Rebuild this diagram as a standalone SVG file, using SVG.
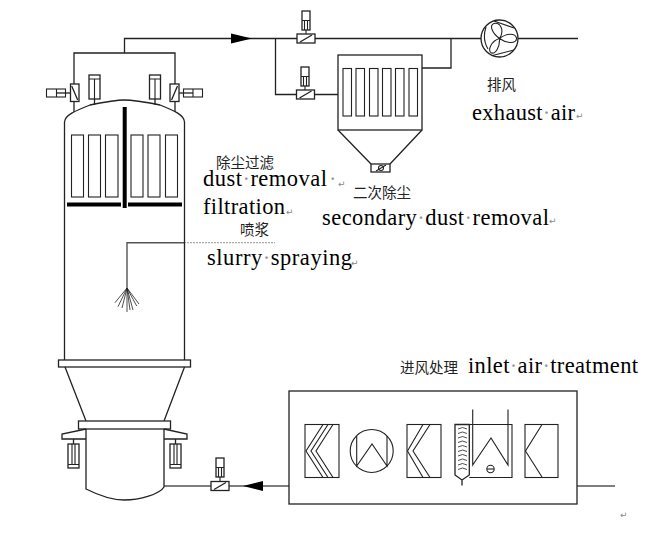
<svg xmlns="http://www.w3.org/2000/svg" width="664" height="535" viewBox="0 0 664 535">
<style>
.l{fill:none;stroke:#222;stroke-width:1.3}
.b{fill:#fff;stroke:#222;stroke-width:1.3}
.t{fill:none;stroke:#222;stroke-width:1.1}
.s{fill:none;stroke:#222;stroke-width:0.8}
.g{fill:none;stroke:#555;stroke-width:1.4}
.h{fill:none;stroke:#000;stroke-width:4}
.en{font-family:"Liberation Serif",serif;font-size:22.5px;fill:#000}
.zh{font-family:"Noto Sans CJK SC",sans-serif;font-size:14.5px;fill:#222;font-weight:400}
.d{fill:#999}
.r{font-family:"DejaVu Sans",sans-serif;font-size:9px;fill:#888}
</style>
<defs>
<g id="v"><rect class="b" x="-9" y="-4.500" width="18" height="9"/><path class="l" d="M-6 3.500L6 -3.500"/></g>
<g id="act"><rect class="b" x="-4" y="-19" width="8" height="19"/><path class="t" d="M-4 -9.500H4M-1.500 -9.500V0M1.500 -9.500V0"/></g>
<g id="cyl"><rect class="b" x="-5.500" y="0" width="11" height="24"/><path class="t" d="M-5.500 20.500H5.500M-1.500 0V20.500M1.500 0V20.500"/></g>
</defs>
<g id="connectors">
<path class="l" d="M74 84V53H175V84M124.500 53V38.500H297M315 38.500H578M275.500 38.500V94.500H297M315 94.500H338M422 68H451V38.500"/>
<path d="M231 33.500L252 38.500L231 43.500Z" fill="#000"/>
<path class="g" d="M164 486H211M229 486H289M577 486H615"/>
<path d="M243 486L263 481V491Z" fill="#000"/>
<path class="g" d="M127 288V242.700H184"/>
<path d="M184 242.700H275" stroke="#aaa" stroke-width="1.2" stroke-dasharray="2 1" fill="none"/>
</g>
<g id="valve-top"><use href="#v" x="306" y="38.500"/><use href="#act" x="306" y="30"/><path class="t" d="M306 30V34"/></g>
<g id="valve-branch"><use href="#v" x="305.500" y="94.500"/><use href="#act" x="305" y="86"/><path class="t" d="M305 86V90"/></g>
<g id="fan"><circle class="b" cx="499.500" cy="38.500" r="18.500"/>
<path class="t" d="M499.500 38.500C492 33 489 25 494 23.500C500 22 505 30 499.500 38.500C507 33 515 33 516.500 38C517 44 507 44 499.500 38.500C500 46 496 54 491.500 53C487 51 491 41 499.500 38.500Z"/>
<path class="t" d="M494 21L514 28M492.500 55.500L514 50M486 27C483 36 485 44 488 49"/>
</g>
<g id="secondary-collector">
<rect class="b" x="338" y="55" width="84" height="75"/>
<path class="l" d="M338 130L371 164M422 130L390 164"/>
<g class="t"><rect x="343" y="68.500" width="8.500" height="47.500"/><rect x="356" y="68.500" width="8.500" height="47.500"/><rect x="369.500" y="68.500" width="8.500" height="47.500"/><rect x="382.500" y="68.500" width="8.500" height="47.500"/><rect x="395.500" y="68.500" width="8.500" height="47.500"/><rect x="409" y="68.500" width="8.500" height="47.500"/></g>
<rect class="b" x="371" y="164" width="19" height="8"/><path class="t" d="M376 171L386 165"/><circle class="t" cx="381" cy="168" r="2.500"/>
</g>
<g id="main-tower">
<path class="l" d="M64.500 360V122C65 115 75 111 90 105C105 102 115 100 124 100C134 100 145 102 160 105C175 111 184 115 184.500 122V360"/>
<g class="t"><rect x="71.500" y="135" width="12" height="62"/><rect x="88.500" y="135" width="12" height="62"/><rect x="105.500" y="135" width="12.500" height="62"/><rect x="131" y="135" width="12" height="62"/><rect x="148" y="135" width="12" height="62"/><rect x="165.500" y="135" width="12" height="62"/></g>
<path class="h" d="M124.700 107V208M67 204.500H121M128 204.500H182"/>
<path class="l" d="M94.500 99V105M155 99V105M74 101V112M175 101V112"/>
<path class="s" d="M115 302.700L127 288L118 306.700M122 308L127 288V312M127 288L130 310M127 288L133 310M127 288L136.700 306M127 288L139 304"/>
</g>
<g id="tower-valve-left"><rect class="b" x="70.500" y="84" width="8.500" height="17.500"/><path class="l" d="M71.700 86L77.700 100"/><path class="l" d="M56.500 93H70.500"/><rect class="t" x="46.500" y="89" width="19" height="8"/><path class="t" d="M56.500 89V97"/></g>
<g id="tower-valve-right"><rect class="b" x="170" y="84" width="9" height="17.500"/><path class="l" d="M177.500 86L171.500 100"/><path class="l" d="M179 93H193"/><rect class="t" x="183.500" y="89" width="19" height="8"/><path class="t" d="M193 89V97"/></g>
<g id="sensor-left"><rect class="b" x="89" y="75" width="11" height="24"/><path class="t" d="M89 79H100M94.500 79V99"/></g>
<g id="sensor-right"><rect class="b" x="149.500" y="75" width="11" height="24"/><path class="t" d="M149.500 79H160.500M155 79V99"/></g>
<g id="lower-vessel">
<rect class="b" x="58.500" y="360" width="132" height="7"/>
<path class="l" d="M65 367L86 421M184.500 367L164 421"/>
<rect class="b" x="78.500" y="421" width="92" height="8"/>
<path class="l" d="M86 429V489C98 495 110 500 124 500C140 500 160 494 164 487V429"/>
<path class="l" d="M86 429L62 434V439H86M164 429L187 434V439H164M73.500 439V444M175.500 439V444"/>
<use href="#cyl" x="73.500" y="444"/><use href="#cyl" x="175.500" y="444"/>
</g>
<g id="valve-inlet"><use href="#v" x="220" y="486"/><use href="#act" x="220" y="477"/><path class="t" d="M220 477V481"/></g>
<g id="inlet-unit">
<rect class="b" x="289" y="391" width="288" height="113"/>
<rect class="t" x="305" y="424.500" width="34" height="53"/>
<path class="t" d="M323 424.500L306 451L323 477.500M328 424.500L311 451L328 477.500M333 424.500L316 451L333 477.500"/>
<circle class="t" cx="371.700" cy="451" r="21.500"/>
<path class="t" d="M356.700 436V466L372 444L387 466V436"/>
<rect class="t" x="407" y="424.500" width="34" height="53"/>
<path class="t" d="M423 424.500L407.500 451L423 477.500M430 424.500L413 451L430 477.500"/>
<path class="t" d="M469.300 424.500H512V477.500H469.300"/>
<path class="l" d="M455 424.500H469.300V475L462 480L455 475ZM462 480V485.500"/>
<path class="s" d="M458 429Q462.500 426 467 429M458 433.500Q462.500 430.500 467 433.500M458 438Q462.500 435 467 438M458 442.500Q462.500 439.500 467 442.500M458 447Q462.500 444 467 447M458 451.500Q462.500 448.500 467 451.500M458 456Q462.500 453 467 456M458 460.500Q462.500 457.500 467 460.500M458 465Q462.500 462 467 465M458 469.500Q462.500 466.500 467 469.500"/>
<path class="t" d="M472.700 409.500V465L491 438L508 465V409.500"/>
<circle class="t" cx="490.500" cy="469" r="3.700"/><path class="t" d="M487 469H494"/>
<rect class="t" x="525" y="424.500" width="33" height="53"/>
<path class="t" d="M542 424.500L525.500 451L542 477"/>
</g>
<g id="labels">
<text class="zh" x="487" y="90">排风</text>
<text class="en" x="472" y="120" textLength="103">exhaust<tspan class="d">·</tspan>air</text><text class="r" x="576" y="119">↵</text>
<text class="zh" x="216" y="168">除尘过滤</text>
<text class="en" x="203" y="186" textLength="124">dust<tspan class="d">·</tspan>removal</text><text class="en d" x="329" y="186">·</text><text class="r" x="338" y="187">↵</text>
<text class="en" x="203" y="214" textLength="82">filtration</text><text class="r" x="286" y="215">↵</text>
<text class="zh" x="240" y="235">喷浆</text>
<text class="en" x="207" y="265" textLength="145">slurry<tspan class="d">·</tspan>spraying</text><text class="r" x="351" y="266">↵</text>
<text class="zh" x="353" y="198">二次除尘</text>
<text class="en" x="322" y="225" textLength="227">secondary<tspan class="d">·</tspan>dust<tspan class="d">·</tspan>removal</text><text class="r" x="549" y="224">↵</text>
<text class="zh" x="400" y="373">进风处理</text>
<text class="en" x="468" y="373" textLength="170">inlet<tspan class="d">·</tspan>air<tspan class="d">·</tspan>treatment</text><text class="r" x="620" y="518">↵</text>
</g>
</svg>
